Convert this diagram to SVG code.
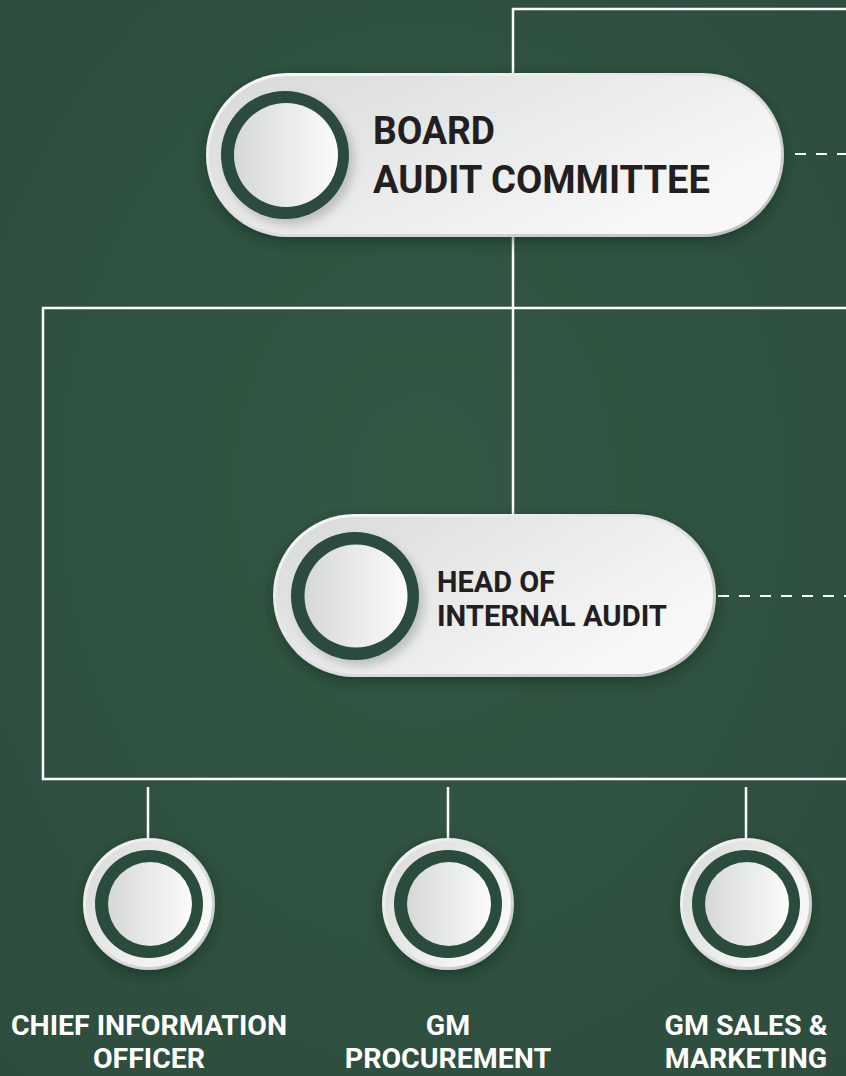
<svg xmlns="http://www.w3.org/2000/svg" width="846" height="1076" viewBox="0 0 846 1076">
  <defs>
    <radialGradient id="bg" cx="0.5" cy="0.45" r="0.75">
      <stop offset="0" stop-color="#335844"/>
      <stop offset="1" stop-color="#2d4c3d"/>
    </radialGradient>
    <linearGradient id="rim" x1="0" y1="0" x2="1" y2="1">
      <stop offset="0" stop-color="#fafafa"/>
      <stop offset="0.6" stop-color="#d9dad9"/>
      <stop offset="1" stop-color="#bdbfbe"/>
    </linearGradient>
    <linearGradient id="face" x1="0" y1="0" x2="1" y2="0.6">
      <stop offset="0" stop-color="#d8dad9"/>
      <stop offset="1" stop-color="#f8f8f8"/>
    </linearGradient>
    <linearGradient id="knob" x1="0" y1="0" x2="1" y2="0">
      <stop offset="0" stop-color="#d6d8d7"/>
      <stop offset="1" stop-color="#fbfbfb"/>
    </linearGradient>
    <filter id="shadow" x="-20%" y="-30%" width="140%" height="170%">
      <feDropShadow dx="0" dy="5" stdDeviation="7" flood-color="#0f2219" flood-opacity="0.45"/>
    </filter>
    <filter id="ringShadow" x="-30%" y="-30%" width="170%" height="170%">
      <feDropShadow dx="5" dy="6" stdDeviation="5" flood-color="#000" flood-opacity="0.18"/>
    </filter>
    <style>
      .line { fill: none; stroke: #ffffff; stroke-width: 2.5; }
      .dash { fill: none; stroke: #ffffff; stroke-width: 2; stroke-dasharray: 11 10; }
      .ring { fill: #2a4c3c; }
      .pillText { font-family: Roboto, "Liberation Sans", sans-serif; font-weight: 700; fill: #231f20; }
      .label { font-family: Roboto, "Liberation Sans", sans-serif; font-weight: 700; font-size: 28.5px; fill: #ffffff; text-anchor: middle; }
    </style>
  </defs>

  <rect width="846" height="1076" fill="url(#bg)"/>

  <!-- connectors -->
  <g id="connectors">
    <polyline class="line" points="846,9 513,9 513,73"/>
    <line class="line" x1="513" y1="236" x2="513" y2="514"/>
    <polyline class="line" points="846,308 43,308 43,779 846,779"/>
    <line class="dash" x1="795" y1="154" x2="846" y2="154"/>
    <line class="dash" x1="718" y1="596" x2="846" y2="596"/>
    <line class="line" x1="148" y1="787" x2="148" y2="838"/>
    <line class="line" x1="448" y1="787" x2="448" y2="838"/>
    <line class="line" x1="746" y1="787" x2="746" y2="838"/>
  </g>

  <!-- Board Audit Committee -->
  <g id="board-audit-committee">
    <rect x="206" y="73" width="578" height="164" rx="82" fill="url(#rim)" filter="url(#shadow)"/>
    <rect x="209" y="76" width="572" height="158" rx="79" fill="url(#face)"/>
    <circle cx="285" cy="155" r="64" class="ring" filter="url(#ringShadow)"/>
    <circle cx="286" cy="155" r="52" fill="url(#knob)"/>
    <text class="pillText" font-size="39" x="373" y="144" textLength="122" lengthAdjust="spacingAndGlyphs">BOARD</text>
    <text class="pillText" font-size="39" x="373" y="193" textLength="337" lengthAdjust="spacingAndGlyphs">AUDIT COMMITTEE</text>
  </g>

  <!-- Head of Internal Audit -->
  <g id="head-of-internal-audit">
    <rect x="273" y="514" width="443" height="163" rx="81.5" fill="url(#rim)" filter="url(#shadow)"/>
    <rect x="276" y="517" width="437" height="157" rx="78.5" fill="url(#face)"/>
    <circle cx="355" cy="596" r="64" class="ring" filter="url(#ringShadow)"/>
    <circle cx="356" cy="596" r="51.5" fill="url(#knob)"/>
    <text class="pillText" font-size="30" x="437" y="592" textLength="118" lengthAdjust="spacingAndGlyphs">HEAD OF</text>
    <text class="pillText" font-size="30" x="437" y="626" textLength="230" lengthAdjust="spacingAndGlyphs">INTERNAL AUDIT</text>
  </g>

  <!-- Chief Information Officer -->
  <g id="chief-information-officer">
    <circle cx="149" cy="904" r="66" fill="url(#rim)" filter="url(#shadow)"/>
    <circle cx="149" cy="904" r="63" fill="url(#face)"/>
    <circle cx="149" cy="904" r="54" class="ring"/>
    <circle cx="150" cy="904" r="42" fill="url(#knob)"/>
    <text class="label" x="149" y="1035">CHIEF INFORMATION</text>
    <text class="label" x="149" y="1068">OFFICER</text>
  </g>

  <!-- GM Procurement -->
  <g id="gm-procurement">
    <circle cx="448" cy="904" r="66" fill="url(#rim)" filter="url(#shadow)"/>
    <circle cx="448" cy="904" r="63" fill="url(#face)"/>
    <circle cx="448" cy="904" r="54" class="ring"/>
    <circle cx="449" cy="904" r="42" fill="url(#knob)"/>
    <text class="label" x="448" y="1035">GM</text>
    <text class="label" x="448" y="1068">PROCUREMENT</text>
  </g>

  <!-- GM Sales & Marketing -->
  <g id="gm-sales-marketing">
    <circle cx="746" cy="904" r="66" fill="url(#rim)" filter="url(#shadow)"/>
    <circle cx="746" cy="904" r="63" fill="url(#face)"/>
    <circle cx="746" cy="904" r="54" class="ring"/>
    <circle cx="747" cy="904" r="42" fill="url(#knob)"/>
    <text class="label" x="746" y="1035">GM SALES &amp;</text>
    <text class="label" x="746" y="1068">MARKETING</text>
  </g>
</svg>
